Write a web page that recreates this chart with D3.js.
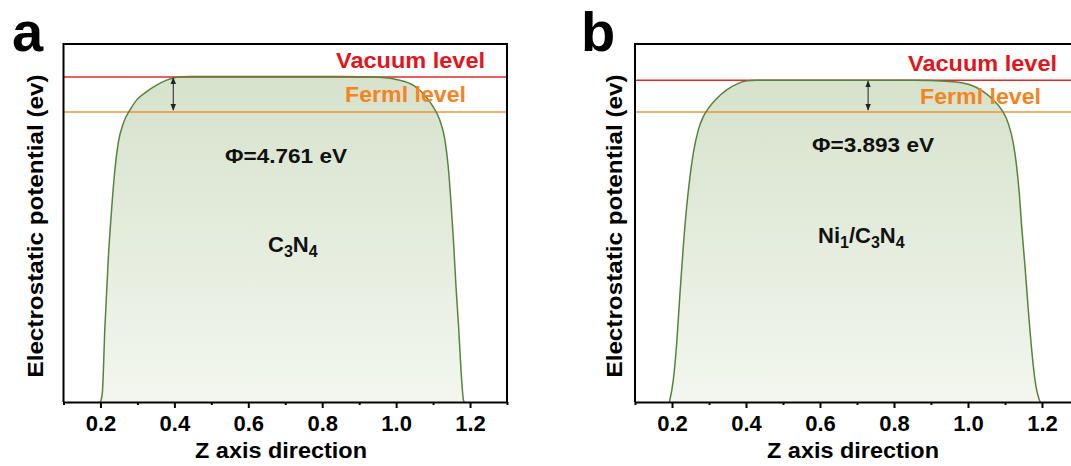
<!DOCTYPE html>
<html><head><meta charset="utf-8">
<script src="https://cdn.jsdelivr.net/npm/d3@7"></script>
<style>
html,body{margin:0;padding:0;background:#fff;overflow:hidden;}
svg{display:block;font-family:"Liberation Sans",Arial,sans-serif;}
</style></head>
<body>
<svg id="chart" width="1071" height="466"></svg>
<script>
// ---- data (normalized electrostatic potential vs Z axis direction) ----
const majorTicks = [0.2, 0.4, 0.6, 0.8, 1.0, 1.2];
const minorTicks = [0.1, 0.3, 0.5, 0.7, 0.9, 1.1, 1.3];

const zA = [0.200,0.205,0.212,0.221,0.230,0.239,0.248,0.262,0.280,0.298,0.325,0.352,0.379,0.406,0.442,0.55,0.70,0.85,0.956,1.010,1.046,1.073,1.100,1.118,1.132,1.141,1.148,1.155,1.162,1.169,1.175,1.182,1.184];
const vA = [0.000,0.025,0.209,0.397,0.536,0.648,0.723,0.779,0.816,0.844,0.867,0.885,0.899,0.907,0.909,0.909,0.909,0.909,0.907,0.899,0.885,0.862,0.825,0.788,0.732,0.657,0.564,0.453,0.322,0.210,0.099,0.006,0.000];

const zB = [0.193,0.2035,0.2127,0.2216,0.2305,0.2397,0.2486,0.2576,0.2711,0.2846,0.2981,0.3208,0.3478,0.3749,0.4019,0.4289,0.55,0.70,0.85,0.9514,1.0054,1.0414,1.0684,1.0911,1.1089,1.1224,1.1316,1.1386,1.1451,1.1541,1.1630,1.1722,1.1811,1.1927,1.195];
const vB = [0.000,0.061,0.164,0.304,0.434,0.546,0.629,0.695,0.760,0.797,0.820,0.848,0.872,0.888,0.897,0.899,0.899,0.899,0.899,0.895,0.886,0.867,0.844,0.816,0.778,0.723,0.657,0.583,0.490,0.378,0.257,0.145,0.061,0.006,0.000];

const vacuumLevels = [0.908, 0.899];
const fermiLevels  = [0.810, 0.810];
const arrowZ = [0.397, 0.730];
const workFunctions = ["Φ=4.761 eV", "Φ=3.893 eV"];
const panelLetters = ["a", "b"];

// ---- layout ----
const svg = d3.select("#chart");
const defs = svg.append("defs");
const grad = defs.append("linearGradient").attr("id","fillGrad").attr("x1",0).attr("y1",0).attr("x2",0).attr("y2",1);
grad.append("stop").attr("offset","0%").attr("stop-color","#d6e2cc");
grad.append("stop").attr("offset","100%").attr("stop-color","#f3f7ef");
defs.append("marker").attr("id","ah").attr("viewBox","0 0 10 10").attr("refX",9).attr("refY",5)
  .attr("markerWidth",7).attr("markerHeight",7).attr("orient","auto-start-reverse")
  .append("path").attr("d","M0,1 L10,5 L0,9 Z").attr("fill","#222");

const panels = [
  {left:63.5, right:507, z:zA, v:vA, letterX:12, letterY:51, ytX:43, phi:[225,163], sub:[268,252], subW:52},
  {left:635, right:1079, z:zB, v:vB, letterX:581, letterY:51, ytX:622, phi:[812,152], sub:[818,243], subW:90}
];
const plotTop = 44, plotBottom = 402;
const RED = "#e3151c", ORANGE = "#f5841f";

panels.forEach((p, i) => {
  const x = d3.scaleLinear().domain([0.1, 1.3]).range([p.left, p.right]);
  const y = d3.scaleLinear().domain([0, 1]).range([plotBottom, plotTop]);
  const g = svg.append("g");
  const pts = p.z.map((z, k) => [z, p.v[k]]);

  g.append("path").datum(pts)
    .attr("d", d3.area().x(d => x(d[0])).y0(y(0)).y1(d => y(d[1])).curve(d3.curveMonotoneX))
    .attr("fill", "url(#fillGrad)");

  g.append("line").attr("x1", x(0.1)).attr("x2", x(1.3)).attr("y1", y(vacuumLevels[i])).attr("y2", y(vacuumLevels[i]))
    .attr("stroke", "#e02a2a").attr("stroke-width", 1.5);
  g.append("line").attr("x1", x(0.1)).attr("x2", x(1.3)).attr("y1", y(fermiLevels[i])).attr("y2", y(fermiLevels[i]))
    .attr("stroke", "#e8963c").attr("stroke-width", 1.5);

  g.append("path").datum(pts)
    .attr("d", d3.line().x(d => x(d[0])).y(d => y(d[1])).curve(d3.curveMonotoneX))
    .attr("fill", "none").attr("stroke", "#56843a").attr("stroke-width", 1.5);

  g.append("line").attr("x1", x(arrowZ[i])).attr("x2", x(arrowZ[i]))
    .attr("y1", y(vacuumLevels[i]) + 1).attr("y2", y(fermiLevels[i]) - 2)
    .attr("stroke", "#222").attr("stroke-width", 1)
    .attr("marker-start", "url(#ah)").attr("marker-end", "url(#ah)");

  g.append("path").attr("d", `M${x(0.1)},${plotBottom} V${plotTop} H${x(1.3)} V${plotBottom}`)
    .attr("fill","none").attr("stroke","#000").attr("stroke-width",2);

  const ax = g.append("g").attr("transform", `translate(0,${plotBottom})`)
    .call(d3.axisBottom(x).tickValues(majorTicks).tickFormat(d3.format(".1f")).tickSize(6).tickSizeOuter(0));
  ax.select(".domain").attr("stroke-width", 2);
  ax.selectAll(".tick line").attr("stroke-width", 2);
  ax.selectAll(".tick text").attr("font-size", 22).attr("font-weight","bold").attr("fill","#000")
    .attr("font-family", "Liberation Sans, Arial, sans-serif").attr("y", 13).attr("dy","0.71em");
  const mx = g.append("g").attr("transform", `translate(0,${plotBottom})`)
    .call(d3.axisBottom(x).tickValues(minorTicks).tickFormat("").tickSize(3).tickSizeOuter(0));
  mx.select(".domain").remove();
  mx.selectAll(".tick line").attr("stroke-width", 2);

  const vacX = i === 0 ? 485 : 1057;
  g.append("text").attr("x", vacX - 149).attr("y", i === 0 ? 68 : 71)
    .attr("textLength", 149).attr("lengthAdjust","spacingAndGlyphs")
    .attr("font-size", 22).attr("font-weight","bold").attr("fill", RED).text("Vacuum level");
  g.append("text").attr("x", i === 0 ? 345 : 920).attr("y", i === 0 ? 102 : 104)
    .attr("textLength", 121).attr("lengthAdjust","spacingAndGlyphs")
    .attr("font-size", 22).attr("font-weight","bold").attr("fill", ORANGE).text("Ferml level");

  g.append("text").attr("x", p.phi[0]).attr("y", p.phi[1])
    .attr("textLength", 122).attr("lengthAdjust","spacingAndGlyphs")
    .attr("font-size", 21).attr("font-weight","bold").attr("fill","#111").text(workFunctions[i]);

  const st = g.append("text").attr("x", p.sub[0]).attr("y", p.sub[1])
    .attr("font-size", 22).attr("font-weight","bold").attr("fill","#111");
  const parts = i === 0 ? [["C",0],["3",1],["N",0],["4",1]] : [["Ni",0],["1",1],["/C",0],["3",1],["N",0],["4",1]];
  parts.forEach(([t, s]) => {
    st.append("tspan").attr("font-size", s ? 16 : 22)
      .attr("baseline-shift", s ? "-30%" : "0%").text(t);
  });

  g.append("text").attr("x", i === 0 ? 281 : 853).attr("y", 458)
    .attr("text-anchor","middle").attr("textLength", 172).attr("lengthAdjust","spacingAndGlyphs")
    .attr("font-size", 22).attr("font-weight","bold").attr("fill","#000").text("Z axis direction");

  g.append("text").attr("transform", `translate(${p.ytX},226) rotate(-90)`)
    .attr("text-anchor","middle").attr("textLength", 303).attr("lengthAdjust","spacingAndGlyphs")
    .attr("font-size", 22).attr("font-weight","bold").attr("fill","#000").text("Electrostatic potential (ev)");

  g.append("text").attr("x", p.letterX).attr("y", p.letterY)
    .attr("font-size", 56).attr("font-weight","bold").attr("fill","#000").text(panelLetters[i]);
});
</script>
</body></html>
